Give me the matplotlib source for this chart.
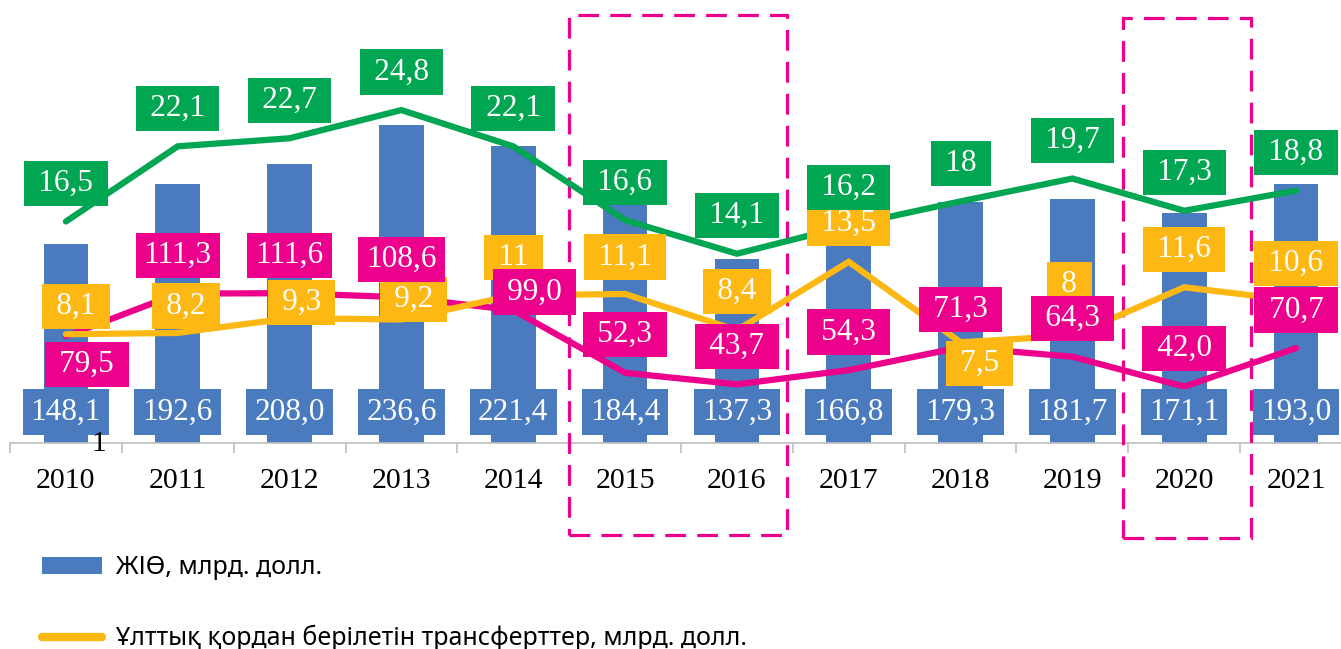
import matplotlib
matplotlib.use('Agg')
import matplotlib.pyplot as plt
from matplotlib.lines import Line2D
from matplotlib.patches import Rectangle
import numpy as np

# chart data
years = ['2010', '2011', '2012', '2013', '2014', '2015', '2016', '2017', '2018', '2019', '2020', '2021']
gdp = [148.1, 192.6, 208.0, 236.6, 221.4, 184.4, 137.3, 166.8, 179.3, 181.7, 171.1, 193.0]
oil = [79.5, 111.3, 111.6, 108.6, 99.0, 52.3, 43.7, 54.3, 71.3, 64.3, 42.0, 70.7]
transfers = [8.1, 8.2, 9.3, 9.2, 11, 11.1, 8.4, 13.5, 7.5, 8, 11.6, 10.6]
green_share = [16.5, 22.1, 22.7, 24.8, 22.1, 16.6, 14.1, 16.2, 18, 19.7, 17.3, 18.8]
legend_labels = ['ЖІӨ, млрд. долл.', 'Ұлттық қордан берілетін трансферттер, млрд. долл.']

# label offsets in pixels (dx, dy)
yellow_off = [(10, 28), (8, 27), (12, 16), (12, 20), (0, 38), (0, 37), (0, 39), (0, 38),
              (19, -21), (-3, 51), (0, 38), (0, 37)]
magenta_off = [(21, -28)] + [(0, 38)] * 3 + [(21, 18)] + [(0, 38)] * 7
green_off = [(0, 38)] * 12

BLUE = '#4A7BBF'
GREEN = '#00A651'
GOLD = '#FDB813'
PINK = '#EC008C'
SERIF = ['Liberation Serif', 'DejaVu Serif']

W, H = 1341, 649
fig = plt.figure(figsize=(W / 100, H / 100), dpi=100)
ax1 = fig.add_axes([10 / W, 1 - 443 / H, 1342 / W, 443 / H])
ax2 = ax1.twinx()

x = np.arange(len(years))
bars = ax1.bar(x, gdp, width=0.4, color=BLUE, zorder=2)
ax1.plot(x, oil, color=PINK, lw=4.5, solid_joinstyle='miter', solid_capstyle='round', zorder=3)
ax2.plot(x, transfers, color=GOLD, lw=4.5, solid_joinstyle='miter', solid_capstyle='round', zorder=2)
ax2.plot(x, green_share, color=GREEN, lw=4.5, solid_joinstyle='miter', solid_capstyle='round', zorder=3)

ax1.set_xlim(-0.5, 11.5)
ax1.set_ylim(0, 330)
ax2.set_ylim(0, 33)

for a in (ax1, ax2):
    for s in ('top', 'left', 'right'):
        a.spines[s].set_visible(False)
    a.set_yticks([])
ax2.spines['bottom'].set_visible(False)
ax1.spines['bottom'].set_color('#BFBFBF')
ax1.spines['bottom'].set_linewidth(1.2)

ax1.set_xticks(x)
ax1.set_xticklabels(years, fontsize=21.5, family=SERIF)
ax1.tick_params(axis='x', which='major', length=0, pad=18)
ax1.set_xticks(np.arange(-0.5, 12, 1), minor=True)
ax1.tick_params(axis='x', which='minor', length=7, color='#BFBFBF', width=1.2)


def boxed(axis, xv, yv, text, color, off, transform, z):
    if len(text) < 5:
        text = '\u2009' + text + '\u2009'
    axis.annotate(text, xy=(xv, yv), xycoords=transform,
                  xytext=off, textcoords='offset pixels',
                  ha='center', va='center', fontsize=22.5, family=SERIF, color='white',
                  bbox=dict(boxstyle='square,pad=0.26', fc=color, ec='none'),
                  zorder=z, annotation_clip=False)


def fmt1(v):
    return ('%.1f' % v).replace('.', ',')


def fmtg(v):
    return ('%g' % v).replace('.', ',')


for i in range(len(years)):
    boxed(ax2, i, 0, fmt1(gdp[i]), BLUE, (0, 31), ax1.transData, 5)
    boxed(ax2, i, transfers[i], fmtg(transfers[i]), GOLD, yellow_off[i], ax2.transData, 6)
    boxed(ax2, i, oil[i], fmt1(oil[i]), PINK, magenta_off[i], ax1.transData, 7)
    boxed(ax2, i, green_share[i], fmtg(green_share[i]), GREEN, green_off[i], ax2.transData, 8)

# stray footnote mark under the first bar
fig.text(98.5 / W, 1 - 444 / H, '1', fontsize=21, family=SERIF, ha='center', va='center')

# dashed frames around crisis years
for x0, x1, y0, y1 in [(4.5, 6.45, -68.5, 318.8), (9.45, 10.6, -70.7, 316.6)]:
    ax1.add_patch(Rectangle((x0, y0), x1 - x0, y1 - y0, fill=False, ec=PINK, lw=2.3,
                            ls=(0, (6.5, 3.5)), clip_on=False, zorder=10))

handles = [bars, Line2D([], [], color=GOLD, lw=6, solid_capstyle='round')]
fig.legend(handles, legend_labels, loc='upper left', bbox_to_anchor=(42 / W, 1 - 555 / H),
           frameon=False, prop={'family': 'Noto Sans', 'size': 18}, handlelength=2.4,
           handletextpad=0.57, labelspacing=1.8, borderpad=0, borderaxespad=0)

fig.savefig('out.png', dpi=100)
